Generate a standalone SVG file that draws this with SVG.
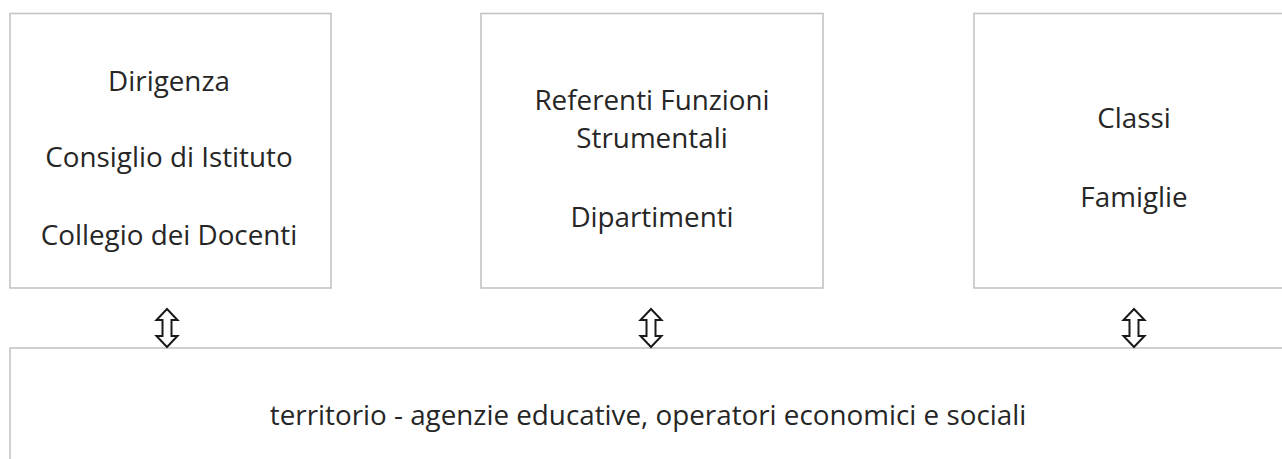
<svg xmlns="http://www.w3.org/2000/svg" width="1282" height="459" viewBox="0 0 1282 459">
  <style>
    .box { fill: #ffffff; stroke: #c4c4c4; stroke-width: 1.6; }
    .lbl { font-family: "Open Sans", "Noto Sans", sans-serif; font-size: 27.8px; fill: #262626; text-anchor: middle; }
    .arr { fill: #ffffff; stroke: #1a1a1a; stroke-width: 2; stroke-linejoin: miter; }
  </style>
  <defs>
    <!-- hollow up/down block arrow, centred on x=0, spanning y=0..38 -->
    <path id="updown" d="M0,0 L10.5,11 L4.5,11 L4.5,27 L10.5,27 L0,38 L-10.5,27 L-4.5,27 L-4.5,11 L-10.5,11 Z"/>
  </defs>

  <rect width="1282" height="459" fill="#ffffff"/>

  <g id="governance">
    <rect class="box" x="10" y="13.5" width="321" height="274.5"/>
    <text class="lbl" x="169" y="91">Dirigenza</text>
    <text class="lbl" x="169" y="167">Consiglio di Istituto</text>
    <text class="lbl" x="169" y="245">Collegio dei Docenti</text>
  </g>

  <g id="staff">
    <rect class="box" x="481" y="13.5" width="342" height="274.5"/>
    <text class="lbl" x="652" y="110">Referenti Funzioni</text>
    <text class="lbl" x="652" y="148">Strumentali</text>
    <text class="lbl" x="652" y="227">Dipartimenti</text>
  </g>

  <g id="classes">
    <rect class="box" x="974" y="13.5" width="330" height="274.5"/>
    <text class="lbl" x="1134" y="128">Classi</text>
    <text class="lbl" x="1134" y="207">Famiglie</text>
  </g>

  <g id="territory">
    <rect class="box" x="10" y="348" width="1290" height="130"/>
    <text class="lbl" x="648" y="425">territorio - agenzie educative, operatori economici e sociali</text>
  </g>

  <g id="connectors">
    <use href="#updown" class="arr" transform="translate(167,309)"/>
    <use href="#updown" class="arr" transform="translate(651,309)"/>
    <use href="#updown" class="arr" transform="translate(1134,309)"/>
  </g>
</svg>
